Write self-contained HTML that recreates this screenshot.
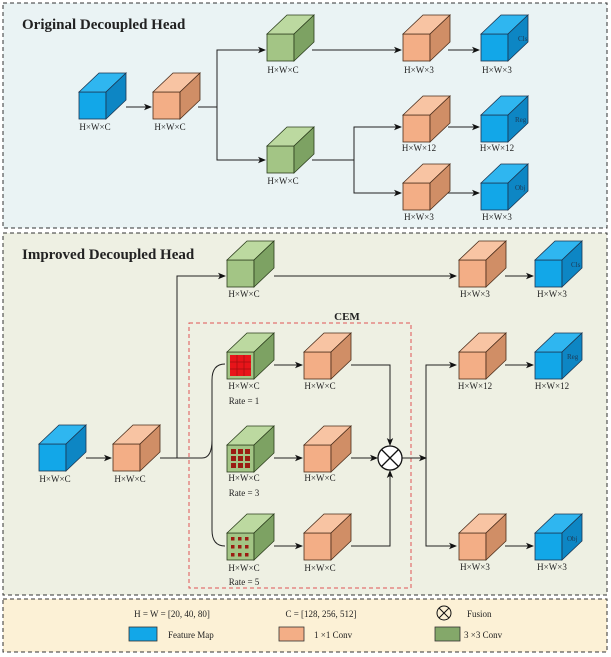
<!DOCTYPE html>
<html><head><meta charset="utf-8"><style>
html,body{margin:0;padding:0;background:#fff;}
svg{display:block;}
text{font-family:"Liberation Serif",serif;fill:#222;}
.l{font-size:9px;text-anchor:middle;}
</style></head><body>
<svg width="611" height="657" viewBox="0 0 611 657" xmlns="http://www.w3.org/2000/svg">
<defs>
<marker id="a" markerWidth="8" markerHeight="8" refX="7" refY="4" orient="auto" markerUnits="userSpaceOnUse">
<path d="M0,0.8 L8,4 L0,7.2 L2,4 Z" fill="#111"/></marker>
<g id="cb" stroke="#1c3550" stroke-width="0.8">
<rect x="0" y="0" width="27" height="27" fill="#12a7e8"/>
<polygon points="0,0 20,-19 47,-19 27,0" fill="#2fb6f0"/>
<polygon points="27,0 47,-19 47,8 27,27" fill="#0d86c4"/></g>
<g id="co" stroke="#4a2c1a" stroke-width="0.8">
<rect x="0" y="0" width="27" height="27" fill="#f3ae86"/>
<polygon points="0,0 20,-19 47,-19 27,0" fill="#f8c4a3"/>
<polygon points="27,0 47,-19 47,8 27,27" fill="#d08e66"/></g>
<g id="cg" stroke="#2b3d1c" stroke-width="0.8">
<rect x="0" y="0" width="27" height="27" fill="#a3c585"/>
<polygon points="0,0 20,-19 47,-19 27,0" fill="#bcd9a0"/>
<polygon points="27,0 47,-19 47,8 27,27" fill="#7da263"/></g>
</defs>

<!-- panels -->
<rect x="3" y="3" width="604" height="225" fill="#eaf3f4" stroke="#333" stroke-width="1" stroke-dasharray="4,3"/>
<rect x="3" y="233" width="604" height="362" fill="#eef0e3" stroke="#333" stroke-width="1" stroke-dasharray="4,3"/>
<rect x="3" y="599" width="604" height="53" fill="#fcf1d6" stroke="#333" stroke-width="1" stroke-dasharray="4,3"/>

<!-- TOP -->
<text x="22" y="29" style="font-size:15px;font-weight:bold">Original Decoupled Head</text>
<g fill="none" stroke="#222" stroke-width="1">
<line x1="126" y1="107" x2="151" y2="107" marker-end="url(#a)"/>
<polyline points="198,107 217,107 217,50 265,50" marker-end="url(#a)"/>
<polyline points="217,107 217,160 265,160" marker-end="url(#a)"/>
<line x1="312" y1="50" x2="401" y2="50" marker-end="url(#a)"/>
<line x1="448" y1="50" x2="479" y2="50" marker-end="url(#a)"/>
<polyline points="312,160 354,160 354,127 401,127" marker-end="url(#a)"/>
<polyline points="354,160 354,193 401,193" marker-end="url(#a)"/>
<line x1="448" y1="127" x2="479" y2="127" marker-end="url(#a)"/>
<line x1="448" y1="193" x2="479" y2="193" marker-end="url(#a)"/>
</g>
<use href="#cb" x="79" y="92"/><text class="l" x="95" y="130">H×W×C</text>
<use href="#co" x="153" y="92"/><text class="l" x="170" y="130">H×W×C</text>
<use href="#cg" x="267" y="34"/><text class="l" x="283" y="73">H×W×C</text>
<use href="#cg" x="267" y="146"/><text class="l" x="283" y="184">H×W×C</text>
<use href="#co" x="403" y="34"/><text class="l" x="419" y="73">H×W×3</text>
<use href="#co" x="403" y="115"/><text class="l" x="419" y="151">H×W×12</text>
<use href="#co" x="403" y="183"/><text class="l" x="419" y="220">H×W×3</text>
<use href="#cb" x="481" y="34"/><text class="l" x="497" y="73">H×W×3</text>
<use href="#cb" x="481" y="115"/><text class="l" x="497" y="151">H×W×12</text>
<use href="#cb" x="481" y="183"/><text class="l" x="497" y="220">H×W×3</text>
<text x="518" y="41" style="font-size:7px;fill:#1d3a55">Cls</text>
<text x="515" y="122" style="font-size:7px;fill:#1d3a55">Reg</text>
<text x="515" y="190" style="font-size:7px;fill:#1d3a55">Obj</text>

<!-- IMPROVED -->
<text x="22" y="259" style="font-size:15px;font-weight:bold">Improved Decoupled Head</text>
<rect x="189" y="323" width="222" height="265" fill="none" stroke="#e05555" stroke-width="1" stroke-dasharray="4,3"/>
<text x="347" y="320" style="font-size:11px;font-weight:bold;text-anchor:middle">CEM</text>
<g fill="none" stroke="#222" stroke-width="1">
<line x1="86" y1="458" x2="111" y2="458" marker-end="url(#a)"/>
<polyline points="160,458 177,458 177,276 225,276" marker-end="url(#a)"/>
<line x1="177" y1="458" x2="202" y2="458"/>
<path d="M202,458 Q212,458 212,440 L212,380 Q212,364 225,364"/>
<path d="M212,440 L212,530 Q212,546 225,546"/>
<line x1="274" y1="276" x2="456" y2="276" marker-end="url(#a)"/>
<line x1="505" y1="276" x2="533" y2="276" marker-end="url(#a)"/>
<line x1="274" y1="365" x2="302" y2="365" marker-end="url(#a)"/>
<line x1="274" y1="458" x2="302" y2="458" marker-end="url(#a)"/>
<line x1="274" y1="546" x2="302" y2="546" marker-end="url(#a)"/>
<polyline points="351,365 390,365 390,445" marker-end="url(#a)"/>
<line x1="351" y1="458" x2="377" y2="458" marker-end="url(#a)"/>
<polyline points="351,546 390,546 390,471" marker-end="url(#a)"/>
<line x1="402" y1="458" x2="426" y2="458" marker-end="url(#a)"/>
<polyline points="426,458 426,365 456,365" marker-end="url(#a)"/>
<polyline points="426,458 426,546 456,546" marker-end="url(#a)"/>
<line x1="505" y1="365" x2="533" y2="365" marker-end="url(#a)"/>
<line x1="505" y1="546" x2="533" y2="546" marker-end="url(#a)"/>
</g>
<circle cx="390" cy="458" r="12" fill="#fff" stroke="#111" stroke-width="1.3"/>
<path d="M381.5,449.5 L398.5,466.5 M398.5,449.5 L381.5,466.5" stroke="#111" stroke-width="1.3"/>

<use href="#cb" x="39" y="444"/><text class="l" x="55" y="482">H×W×C</text>
<use href="#co" x="113" y="444"/><text class="l" x="130" y="482">H×W×C</text>
<use href="#cg" x="227" y="260"/><text class="l" x="244" y="297">H×W×C</text>
<use href="#co" x="459" y="260"/><text class="l" x="475" y="297">H×W×3</text>
<use href="#cb" x="535" y="260"/><text class="l" x="552" y="297">H×W×3</text>
<use href="#co" x="459" y="352"/><text class="l" x="475" y="389">H×W×12</text>
<use href="#cb" x="535" y="352"/><text class="l" x="552" y="389">H×W×12</text>
<use href="#co" x="459" y="533"/><text class="l" x="475" y="570">H×W×3</text>
<use href="#cb" x="535" y="533"/><text class="l" x="552" y="570">H×W×3</text>
<text x="571" y="267" style="font-size:7px;fill:#1d3a55">Cls</text>
<text x="567" y="359" style="font-size:7px;fill:#1d3a55">Reg</text>
<text x="567" y="541" style="font-size:7px;fill:#1d3a55">Obj</text>

<use href="#cg" x="227" y="352"/>
<rect x="230" y="355" width="21" height="21" fill="#e8141a"/>
<path d="M237,355 V376 M244,355 V376 M230,362 H251 M230,369 H251" stroke="#a01010" stroke-width="0.7"/>
<text class="l" x="244" y="389">H×W×C</text><text class="l" x="244" y="404">Rate = 1</text>
<use href="#co" x="304" y="352"/><text class="l" x="320" y="389">H×W×C</text>

<use href="#cg" x="227" y="445"/>
<g fill="#9b1c12"><rect x="231" y="449" width="5" height="5"/><rect x="238" y="449" width="5" height="5"/><rect x="245" y="449" width="5" height="5"/>
<rect x="231" y="456" width="5" height="5"/><rect x="238" y="456" width="5" height="5"/><rect x="245" y="456" width="5" height="5"/>
<rect x="231" y="463" width="5" height="5"/><rect x="238" y="463" width="5" height="5"/><rect x="245" y="463" width="5" height="5"/></g>
<text class="l" x="244" y="481">H×W×C</text><text class="l" x="244" y="496">Rate = 3</text>
<use href="#co" x="304" y="445"/><text class="l" x="320" y="481">H×W×C</text>

<use href="#cg" x="227" y="533"/>
<g fill="#9b1c12"><rect x="231" y="537" width="3.5" height="3.5"/><rect x="238" y="537" width="3.5" height="3.5"/><rect x="245" y="537" width="3.5" height="3.5"/>
<rect x="231" y="545" width="3.5" height="3.5"/><rect x="238" y="545" width="3.5" height="3.5"/><rect x="245" y="545" width="3.5" height="3.5"/>
<rect x="231" y="553" width="3.5" height="3.5"/><rect x="238" y="553" width="3.5" height="3.5"/><rect x="245" y="553" width="3.5" height="3.5"/></g>
<text class="l" x="244" y="571">H×W×C</text><text class="l" x="244" y="585">Rate = 5</text>
<use href="#co" x="304" y="533"/><text class="l" x="320" y="571">H×W×C</text>

<!-- legend -->
<text class="l" x="172" y="617">H = W = [20, 40, 80]</text>
<text class="l" x="321" y="617">C = [128, 256, 512]</text>
<circle cx="444" cy="613" r="7" fill="none" stroke="#111" stroke-width="1"/>
<path d="M439,608 L449,618 M449,608 L439,618" stroke="#111" stroke-width="1"/>
<text x="467" y="617" style="font-size:9px">Fusion</text>
<rect x="129" y="627" width="28" height="14" fill="#12a7e8" stroke="#333" stroke-width="0.8"/>
<text x="168" y="638" style="font-size:9px">Feature Map</text>
<rect x="279" y="627" width="25" height="14" fill="#f3ae86" stroke="#333" stroke-width="0.8"/>
<text x="314" y="638" style="font-size:9px">1 ×1 Conv</text>
<rect x="435" y="627" width="25" height="14" fill="#84a86a" stroke="#333" stroke-width="0.8"/>
<text x="464" y="638" style="font-size:9px">3 ×3 Conv</text>
</svg>
</body></html>
